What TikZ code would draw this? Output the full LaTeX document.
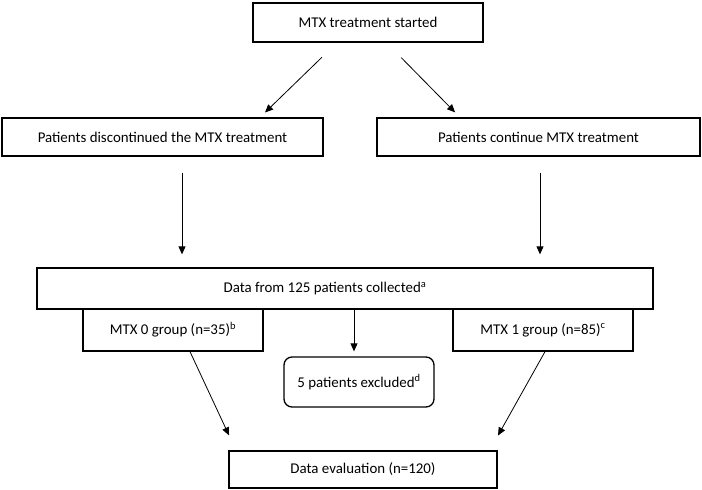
\documentclass[tikz,border=0pt]{standalone}
\usepackage{fontspec}
\setmainfont{Carlito}
\usetikzlibrary{arrows.meta}
\tikzset{
  box/.style={draw,line width=1.3pt,inner sep=0pt,font=\fontsize{14.9}{17}\selectfont},
  roundbox/.style={box,rounded corners=8pt},
  arr/.style={->,line width=0.8pt}
}
\begin{document}
\begin{tikzpicture}[x={(1pt,0)},y={(0,-1pt)},>={Triangle[length=8pt,width=7pt]}]
\useasboundingbox (0,0) rectangle (702,490);
% boxes
\node[box,minimum width=230pt,minimum height=39pt] (start) at (368,22.5) {MTX treatment started};
\node[box,minimum width=321pt,minimum height=38pt] (disc) at (162.5,137) {Patients discontinued the MTX treatment};
\node[box,minimum width=323pt,minimum height=38pt] (cont) at (538.5,137) {Patients continue MTX treatment};
\node[box,minimum width=616pt,minimum height=41pt] (data) at (345,288.5) {Data from 125 patients collected\textsuperscript{a}\hspace*{40pt}};
\node[box,minimum width=180pt,minimum height=42pt] (mtx0) at (173,330) {MTX 0 group (n=35)\textsuperscript{b}};
\node[box,minimum width=180pt,minimum height=42pt] (mtx1) at (543,330) {MTX 1 group (n=85)\textsuperscript{c}};
\node[roundbox,minimum width=150pt,minimum height=50pt] (excl) at (359,382) {5 patients excluded\textsuperscript{d}};
\node[box,minimum width=268pt,minimum height=37pt] (eval) at (363,469.5) {Data evaluation (n=120)};
% arrows
\draw[arr,shorten <=21pt,shorten >=7pt] ([xshift=-31pt]start.south) -- ([xshift=97.5pt]disc.north);
\draw[arr,shorten <=21pt,shorten >=7pt] ([xshift=18.5pt]start.south) -- ([xshift=-78.5pt]cont.north);
\draw[arr,shorten <=16pt,shorten >=13pt] ([xshift=19.5pt]disc.south) -- ([xshift=19.5pt]disc.south |- data.north);
\draw[arr,shorten <=16pt,shorten >=13pt] ([xshift=1.5pt]cont.south) -- ([xshift=1.5pt]cont.south |- data.north);
\draw[arr,shorten >=5pt] ([xshift=-5pt]excl.north |- data.south) -- ([xshift=-5pt]excl.north);
\draw[arr,shorten >=16.5pt] ([xshift=17pt]mtx0.south) -- ([xshift=-127pt]eval.north);
\draw[arr,shorten >=17pt] ([xshift=2pt]mtx1.south) -- ([xshift=126.7pt]eval.north);
\end{tikzpicture}
\end{document}
